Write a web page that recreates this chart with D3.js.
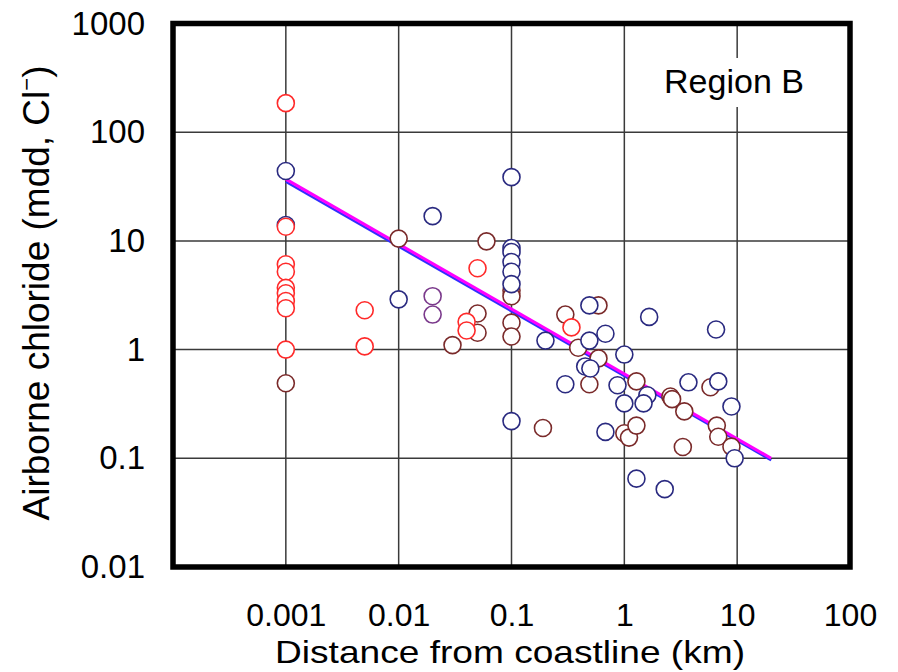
<!DOCTYPE html>
<html>
<head>
<meta charset="utf-8">
<script src="https://cdn.jsdelivr.net/npm/d3@7"></script>
<style>
  body { margin: 0; background: #fff; }
  text { font-family: "Liberation Sans", Arial, sans-serif; fill: #000; }
</style>
</head>
<body>
<div id="chart"></div>
<script>
// data: [distance km, chloride mdd]
var brown_pts = [
  [0.001, 0.49], [0.01, 10.5], [0.03, 1.1], [0.05, 2.15], [0.05, 1.43], [0.06, 9.9],
  [0.1, 3.5], [0.1, 3.1], [0.1, 1.77], [0.1, 1.32], [0.19, 0.19], [0.3, 2.1],
  [0.59, 2.55], [0.39, 1.04], [0.59, 0.83], [0.49, 0.48], [1.28, 0.51], [2.56, 0.37],
  [2.65, 0.35], [3.4, 0.27], [5.8, 0.45], [1.0, 0.17], [1.1, 0.155], [1.28, 0.2],
  [3.3, 0.127], [6.6, 0.2], [6.8, 0.158], [8.9, 0.128]
];
var purple_pts = [[0.02, 3.1], [0.02, 2.1]];
var blue_pts = [
  [0.001, 44], [0.001, 14], [0.01, 2.9], [0.02, 16.9], [0.1, 38.6], [0.1, 8.6],
  [0.1, 7.9], [0.1, 6.4], [0.1, 5.2], [0.1, 4.0], [0.1, 0.22], [0.2, 1.21],
  [0.49, 2.55], [1.66, 2.0], [6.5, 1.53], [0.49, 1.21], [0.68, 1.4], [1.0, 0.9],
  [0.45, 0.7], [0.5, 0.67], [0.3, 0.48], [0.87, 0.47], [1.6, 0.38], [1.0, 0.32],
  [1.48, 0.32], [3.7, 0.5], [6.8, 0.51], [8.9, 0.3], [0.68, 0.175], [9.5, 0.1],
  [1.28, 0.065], [2.28, 0.052]
];
var red_pts = [
  [0.001, 185], [0.001, 13.5], [0.001, 6.1], [0.001, 5.2], [0.001, 3.7], [0.001, 3.3],
  [0.001, 2.8], [0.001, 2.4], [0.001, 1.0], [0.005, 2.3], [0.005, 1.07], [0.04, 1.8],
  [0.04, 1.5], [0.05, 5.6], [0.34, 1.6]
];
// regression lines
var fit_x = [0.001, 20];
var fit_blue = [35, 0.096];
var fit_magenta = [37, 0.1];

var x_ticks = [0.001, 0.01, 0.1, 1, 10, 100];
var x_labels = ["0.001", "0.01", "0.1", "1", "10", "100"];
var y_ticks = [0.01, 0.1, 1, 10, 100, 1000];
var y_labels = ["0.01", "0.1", "1", "10", "100", "1000"];

var svg_width = 898, svg_height = 672;
var plot = {left: 173, right: 850, top: 23.5, bottom: 567};

var svg = d3.select("#chart").append("svg")
    .attr("width", svg_width)
    .attr("height", svg_height);

var x = d3.scaleLog().domain([1e-4, 100]).range([plot.left, plot.right]);
var y = d3.scaleLog().domain([0.01, 1000]).range([plot.bottom, plot.top]);

// grid
svg.append("g")
    .selectAll("line")
    .data(x_ticks.filter(d => d < 100))
    .enter().append("line")
    .attr("x1", d => x(d)).attr("x2", d => x(d))
    .attr("y1", plot.top).attr("y2", plot.bottom)
    .attr("stroke", "#3a3a3a").attr("stroke-width", 1.5);
svg.append("g")
    .selectAll("line")
    .data(y_ticks.filter(d => d > 0.01 && d < 1000))
    .enter().append("line")
    .attr("x1", plot.left).attr("x2", plot.right)
    .attr("y1", d => y(d)).attr("y2", d => y(d))
    .attr("stroke", "#3a3a3a").attr("stroke-width", 1.5);

// axes (labels only)
var x_axis = svg.append("g")
    .attr("transform", "translate(0," + plot.bottom + ")")
    .call(d3.axisBottom(x).tickValues(x_ticks)
        .tickFormat((d, i) => x_labels[i]).tickSize(0).tickPadding(36));
x_axis.select(".domain").remove();
x_axis.selectAll("text").style("font-size", "32px").attr("fill", "#000")
    .style("font-family", "'Liberation Sans', Arial, sans-serif");

var y_axis = svg.append("g")
    .attr("transform", "translate(" + plot.left + ",0)")
    .call(d3.axisLeft(y).tickValues(y_ticks)
        .tickFormat((d, i) => y_labels[i]).tickSize(0).tickPadding(28));
y_axis.select(".domain").remove();
y_axis.selectAll("text").style("font-size", "33px").attr("fill", "#000")
    .style("font-family", "'Liberation Sans', Arial, sans-serif");

// regression lines
var line = d3.line().x(d => x(d[0])).y(d => y(d[1]));
svg.append("path")
    .datum(fit_x.map((d, i) => [d, fit_blue[i]]))
    .attr("d", line).attr("fill", "none")
    .attr("stroke", "#3030ff").attr("stroke-width", 2.5);
svg.append("path")
    .datum(fit_x.map((d, i) => [d, fit_magenta[i]]))
    .attr("d", line).attr("fill", "none")
    .attr("stroke", "#ff00ff").attr("stroke-width", 3);

// points
function draw_points(pts, color) {
    svg.append("g")
        .selectAll("circle")
        .data(pts)
        .enter().append("circle")
        .attr("cx", d => x(d[0]))
        .attr("cy", d => y(d[1]))
        .attr("r", 8.5)
        .attr("fill", "#fff")
        .attr("stroke", color)
        .attr("stroke-width", 1.6);
}
draw_points(brown_pts, "#7a2a2a");
draw_points(purple_pts, "#7b3a8c");
draw_points(blue_pts, "#2a2a80");
draw_points(red_pts, "#ff2a2a");

// frame
svg.append("rect")
    .attr("x", plot.left).attr("y", plot.top)
    .attr("width", plot.right - plot.left).attr("height", plot.bottom - plot.top)
    .attr("fill", "none").attr("stroke", "#000").attr("stroke-width", 5.5);

// region label
svg.append("rect")
    .attr("x", 652).attr("y", 58).attr("width", 166).attr("height", 49)
    .attr("fill", "#fff");
svg.append("text")
    .attr("x", 734).attr("y", 93)
    .attr("text-anchor", "middle")
    .style("font-size", "34px")
    .text("Region B");

// axis titles
svg.append("text")
    .attr("x", 510).attr("y", 663)
    .attr("text-anchor", "middle")
    .attr("textLength", 470).attr("lengthAdjust", "spacingAndGlyphs")
    .style("font-size", "32px")
    .text("Distance from coastline (km)");

var y_title = svg.append("text")
    .attr("transform", "translate(49,293) rotate(-90)")
    .attr("text-anchor", "middle")
    .style("font-size", "37px");
y_title.append("tspan").text("Airborne chloride (mdd, Cl");
y_title.append("tspan").attr("dy", -15).style("font-size", "22px").text("\u2212");
y_title.append("tspan").attr("dy", 15).text(")");
</script>
</body>
</html>
